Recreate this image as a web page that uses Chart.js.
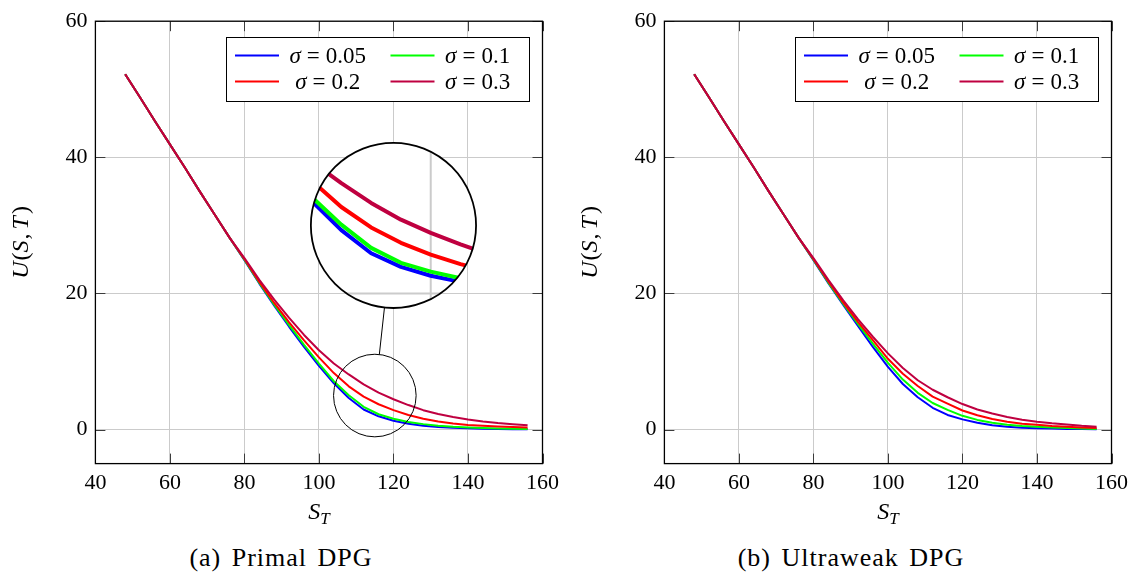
<!DOCTYPE html>
<html>
<head>
<meta charset="utf-8">
<title>U(S,T) – Primal and Ultraweak DPG</title>
<script src="https://cdn.jsdelivr.net/npm/chart.js@4.4.1/dist/chart.umd.min.js"></script>
<style>
  html, body { margin: 0; padding: 0; background: #fff; }
  #figure { position: relative; width: 1135px; height: 578px; overflow: hidden; }
  #figure canvas { position: absolute; top: 0; }
  .caption {
    position: absolute; top: 543px; width: 400px; margin-left: -200px;
    text-align: center; color: #000;
    font-family: "Liberation Serif", serif; font-size: 26px; line-height: 30px;
    letter-spacing: 1px; word-spacing: 3px;
  }
</style>
</head>
<body>
<div id="figure">
  <canvas id="primal" width="565" height="535" style="left:0"></canvas>
  <canvas id="ultraweak" width="565" height="535" style="left:569px"></canvas>
  <div class="caption" style="left:281px">(a) Primal DPG</div>
  <div class="caption" style="left:851px">(b) Ultraweak DPG</div>
</div>
<script>
// mesh nodes in S_T
const sT = [48, 52, 56, 60, 64, 68, 72, 76, 80, 84, 88, 92, 96, 100, 104, 108, 112, 116, 120, 124, 128, 132, 136, 140, 144, 148, 152, 156];

const sigmaLabels = ['0.05', '0.1', '0.2', '0.3'];
const sigmaColors = ['#0000ff', '#00ff00', '#ff0000', '#bf0040'];

// U(S,T), primal DPG
const primal005 = [52.2, 48.8, 45.3, 41.9, 38.5, 35.0, 31.6, 28.2, 24.9, 21.45, 18.2, 15.1, 12.15, 9.35, 6.8, 4.65, 2.95, 1.95, 1.3, 0.85, 0.55, 0.38, 0.27, 0.19, 0.13, 0.09, 0.06, 0.04];
const primal01  = [52.2, 48.8, 45.3, 41.9, 38.5, 35.0, 31.6, 28.2, 24.95, 21.55, 18.35, 15.35, 12.45, 9.7, 7.1, 5.05, 3.35, 2.25, 1.6, 1.12, 0.8, 0.57, 0.41, 0.3, 0.22, 0.16, 0.11, 0.08];
const primal02  = [52.2, 48.8, 45.3, 41.9, 38.5, 35.0, 31.6, 28.2, 25.05, 21.7, 18.6, 15.75, 13.1, 10.6, 8.3, 6.35, 4.85, 3.72, 2.85, 2.15, 1.6, 1.2, 0.9, 0.68, 0.55, 0.45, 0.37, 0.3];
const primal03  = [52.2, 48.8, 45.3, 41.9, 38.5, 35.0, 31.6, 28.2, 25.2, 22.0, 19.1, 16.4, 13.9, 11.65, 9.7, 8.1, 6.65, 5.42, 4.45, 3.6, 2.85, 2.3, 1.85, 1.48, 1.18, 0.95, 0.77, 0.62];

// U(S,T), ultraweak DPG
const ultra005 = [52.2, 48.8, 45.3, 41.9, 38.5, 35.0, 31.6, 28.2, 24.9, 21.5, 18.3, 15.2, 12.1, 9.2, 6.7, 4.75, 3.2, 2.15, 1.5, 1.0, 0.65, 0.42, 0.28, 0.2, 0.14, 0.1, 0.07, 0.05];
const ultra01  = [52.2, 48.8, 45.3, 41.9, 38.5, 35.0, 31.6, 28.2, 24.95, 21.6, 18.45, 15.5, 12.6, 9.8, 7.35, 5.4, 3.9, 2.9, 2.02, 1.42, 1.0, 0.7, 0.52, 0.42, 0.32, 0.23, 0.16, 0.1];
const ultra02  = [52.2, 48.8, 45.3, 41.9, 38.5, 35.0, 31.6, 28.2, 25.05, 21.75, 18.65, 15.8, 13.1, 10.4, 8.2, 6.4, 4.85, 3.8, 2.8, 2.1, 1.55, 1.15, 0.87, 0.7, 0.53, 0.42, 0.3, 0.22];
const ultra03  = [52.2, 48.8, 45.3, 41.9, 38.5, 35.0, 31.6, 28.2, 25.2, 22.0, 19.0, 16.2, 13.6, 11.2, 9.05, 7.25, 5.85, 4.75, 3.75, 2.95, 2.35, 1.85, 1.45, 1.15, 0.92, 0.75, 0.55, 0.4];

const xTickValues = [40, 60, 80, 100, 120, 140, 160];
const yTickValues = [0, 20, 40, 60];

const SERIF = '"Liberation Serif", serif';
const GRID = '#cbcbcb';

function line(ctx, x1, y1, x2, y2) {
  ctx.beginPath();
  ctx.moveTo(x1, y1);
  ctx.lineTo(x2, y2);
  ctx.stroke();
}

// draws a row of text pieces (math italic / upright) centred on cx
function drawRuns(ctx, runs, cx, baseline) {
  let total = 0;
  runs.forEach(r => {
    ctx.font = r.font;
    r.w = ctx.measureText(r.text).width;
    total += (r.gap || 0) + r.w;
  });
  let x = cx - total / 2;
  ctx.textAlign = 'left';
  ctx.textBaseline = 'alphabetic';
  ctx.fillStyle = '#000';
  runs.forEach(r => {
    x += r.gap || 0;
    ctx.font = r.font;
    ctx.fillText(r.text, x, baseline + (r.dy || 0));
    x += r.w;
  });
}

const it = size => `italic ${size}px ${SERIF}`;
const up = size => `${size}px ${SERIF}`;

function sigmaRuns(value) {
  return [
    { text: 'σ', font: it(23) },
    { text: '=', font: up(23), gap: 6 },
    { text: value, font: up(23), gap: 6 }
  ];
}

function drawLegend(ctx, area) {
  const w = 303, h = 64;
  const left = Math.round(area.right - 14 - w), top = Math.round(area.top + 16);
  ctx.fillStyle = '#fff';
  ctx.fillRect(left, top, w, h);
  ctx.strokeStyle = '#000';
  ctx.lineWidth = 1;
  ctx.strokeRect(left + 0.5, top + 0.5, w, h);
  sigmaLabels.forEach((s, i) => {
    const col = i % 2, row = Math.floor(i / 2);
    const ly = top + 18.5 + row * 26;
    const lx = left + 9 + col * 155.5;
    ctx.strokeStyle = sigmaColors[i];
    ctx.lineWidth = 2;
    line(ctx, lx, ly, lx + 44, ly);
    drawRuns(ctx, sigmaRuns(s), left + (col ? 251.6 : 101.7), ly + 7.5);
  });
}

function drawSpy(chart, spy) {
  const { ctx, chartArea: a, scales: { x, y } } = chart;
  const sx = x.getPixelForValue(spy.at[0]), sy = y.getPixelForValue(spy.at[1]);
  const bx = x.getPixelForValue(spy.to[0]), by = y.getPixelForValue(spy.to[1]);
  const r = spy.radius, R = spy.radius * spy.zoom;

  // magnified copy of grid and curves, same drawing order as the chart
  ctx.save();
  ctx.beginPath();
  ctx.arc(bx, by, R, 0, Math.PI * 2);
  ctx.fillStyle = '#fff';
  ctx.fill();
  ctx.clip();
  ctx.translate(bx, by);
  ctx.scale(spy.zoom, spy.zoom);
  ctx.translate(-sx, -sy);
  ctx.strokeStyle = GRID;
  ctx.lineWidth = 1;
  xTickValues.forEach(v => { const px = x.getPixelForValue(v); line(ctx, px, a.top, px, a.bottom); });
  yTickValues.forEach(v => { const py = y.getPixelForValue(v); line(ctx, a.left, py, a.right, py); });
  chart.data.datasets.forEach((ds, i) => {
    const pts = chart.getDatasetMeta(i).data;
    ctx.beginPath();
    pts.forEach((p, j) => (j ? ctx.lineTo(p.x, p.y) : ctx.moveTo(p.x, p.y)));
    ctx.strokeStyle = ds.borderColor;
    ctx.lineWidth = ds.borderWidth;
    ctx.lineJoin = 'round';
    ctx.stroke();
  });
  ctx.restore();

  // outlines and connector
  const dx = bx - sx, dy = by - sy, d = Math.hypot(dx, dy);
  const ux = dx / d, uy = dy / d;
  ctx.strokeStyle = '#000';
  ctx.lineWidth = 1;
  ctx.beginPath();
  ctx.arc(sx, sy, r, 0, Math.PI * 2);
  ctx.stroke();
  line(ctx, sx + ux * r, sy + uy * r, bx - ux * R, by - uy * R);
  ctx.lineWidth = 1.8;
  ctx.beginPath();
  ctx.arc(bx, by, R, 0, Math.PI * 2);
  ctx.stroke();
}

const figureDecor = {
  id: 'figureDecor',
  afterDraw(chart, args, opts) {
    const { ctx, chartArea: a, scales: { x, y } } = chart;
    ctx.save();

    // inner tick marks on all four sides
    ctx.strokeStyle = '#3c3c3c';
    ctx.lineWidth = 1;
    xTickValues.forEach(v => {
      const px = Math.round(x.getPixelForValue(v)) + 0.5;
      line(ctx, px, a.bottom, px, a.bottom - 10);
      line(ctx, px, a.top, px, a.top + 10);
    });
    yTickValues.forEach(v => {
      const py = Math.round(y.getPixelForValue(v)) + 0.5;
      line(ctx, a.left, py, a.left + 10, py);
      line(ctx, a.right, py, a.right - 10, py);
    });

    // axis frame
    ctx.strokeStyle = '#000';
    ctx.lineWidth = 1.3;
    ctx.strokeRect(a.left, a.top, a.right - a.left, a.bottom - a.top);

    if (opts.spy) drawSpy(chart, opts.spy);
    drawLegend(ctx, a);

    // axis labels
    drawRuns(ctx, [
      { text: 'S', font: it(24) },
      { text: 'T', font: it(17), gap: 0, dy: 4.5 }
    ], (a.left + a.right) / 2, 519);

    ctx.save();
    ctx.translate(a.left - 67, (a.top + a.bottom) / 2);
    ctx.rotate(-Math.PI / 2);
    drawRuns(ctx, [
      { text: 'U', font: it(24) },
      { text: '(', font: up(24), gap: 1 },
      { text: 'S', font: it(24) },
      { text: ',', font: up(24), gap: 1 },
      { text: 'T', font: it(24), gap: 4 },
      { text: ')', font: up(24), gap: 2 }
    ], 0, 0);
    ctx.restore();

    ctx.restore();
  }
};

function makeChart(canvasId, seriesList, spy) {
  return new Chart(document.getElementById(canvasId), {
    type: 'line',
    data: {
      datasets: seriesList.map((values, i) => ({
        label: 'σ = ' + sigmaLabels[i],
        data: sT.map((s, j) => ({ x: s, y: values[j] })),
        borderColor: sigmaColors[i],
        borderWidth: 2,
        borderJoinStyle: 'round',
        pointRadius: 0,
        tension: 0,
        fill: false,
        // larger sigma drawn on top
        order: seriesList.length - i
      }))
    },
    options: {
      responsive: false,
      animation: false,
      devicePixelRatio: 1,
      layout: { padding: { left: 0, right: 21.7, top: 14.1, bottom: 0 } },
      plugins: {
        legend: { display: false },
        tooltip: { enabled: false },
        figureDecor: { spy: spy }
      },
      scales: {
        x: {
          type: 'linear', min: 40, max: 160,
          afterBuildTicks: axis => { axis.ticks = xTickValues.map(v => ({ value: v })); },
          afterFit: axis => { axis.height = 71.4; },
          grid: { color: GRID, lineWidth: 1, drawTicks: false },
          border: { display: false },
          ticks: { color: '#000', font: { family: SERIF, size: 22 }, padding: 6, maxRotation: 0 }
        },
        y: {
          type: 'linear', min: -5, max: 60,
          afterBuildTicks: axis => { axis.ticks = yTickValues.map(v => ({ value: v })); },
          afterFit: axis => { axis.width = 95.4; },
          grid: { color: GRID, lineWidth: 1, drawTicks: false },
          border: { display: false },
          ticks: { color: '#000', font: { family: SERIF, size: 22 }, padding: 8 }
        }
      }
    },
    plugins: [figureDecor]
  });
}

makeChart('primal', [primal005, primal01, primal02, primal03],
  { at: [115, 5], to: [120, 30], radius: 41.3, zoom: 2 });
makeChart('ultraweak', [ultra005, ultra01, ultra02, ultra03], null);
</script>
</body>
</html>
